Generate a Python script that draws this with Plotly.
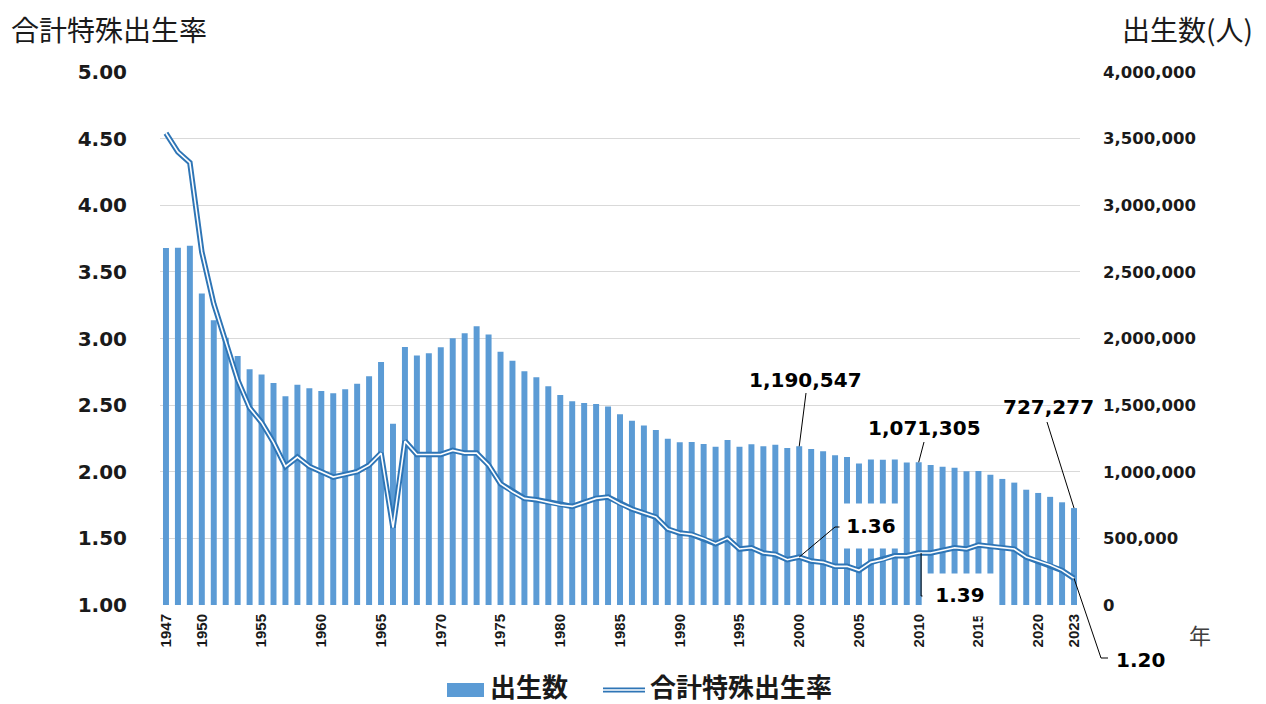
import plotly.graph_objects as go

# ---------------- data ----------------
years = list(range(1947, 2024))
births = [
    2678792, 2681624, 2696638, 2337507, 2137689, 2005162, 1868040, 1769580, 1730692, 1665278,
    1566713, 1653469, 1626088, 1606041, 1589372, 1618616, 1659521, 1716761, 1823697, 1360974,
    1935647, 1871839, 1889815, 1934239, 2000973, 2038682, 2091983, 2029989, 1901440, 1832617,
    1755100, 1708643, 1642580, 1576889, 1529455, 1515392, 1508687, 1489780, 1431577, 1382946,
    1346658, 1314006, 1246802, 1221585, 1223245, 1208989, 1188282, 1238328, 1187064, 1206555,
    1191665, 1203147, 1177669, 1190547, 1170662, 1153855, 1123610, 1110721, 1062530, 1092674,
    1089818, 1091156, 1070036, 1071305, 1050806, 1037231, 1029816, 1003539, 1005721, 977242,
    946146, 918400, 865239, 840835, 811622, 770759, 727277,
]
tfr = [
    4.54, 4.40, 4.32, 3.65, 3.26, 2.98, 2.69, 2.48, 2.37, 2.22,
    2.04, 2.11, 2.04, 2.00, 1.96, 1.98, 2.00, 2.05, 2.14, 1.58,
    2.23, 2.13, 2.13, 2.13, 2.16, 2.14, 2.14, 2.05, 1.91, 1.85,
    1.80, 1.79, 1.77, 1.75, 1.74, 1.77, 1.80, 1.81, 1.76, 1.72,
    1.69, 1.66, 1.57, 1.54, 1.53, 1.50, 1.46, 1.50, 1.42, 1.43,
    1.39, 1.38, 1.34, 1.36, 1.33, 1.32, 1.29, 1.29, 1.26, 1.32,
    1.34, 1.37, 1.37, 1.39, 1.39, 1.41, 1.43, 1.42, 1.45, 1.44,
    1.43, 1.42, 1.36, 1.33, 1.30, 1.26, 1.20,
]
xtick_years = [1947, 1950, 1955, 1960, 1965, 1970, 1975, 1980, 1985, 1990,
               1995, 2000, 2005, 2010, 2015, 2020, 2023]
tfr_ticks = [1.0, 1.5, 2.0, 2.5, 3.0, 3.5, 4.0, 4.5, 5.0]
birth_ticks = [0, 500000, 1000000, 1500000, 2000000, 2500000, 3000000, 3500000, 4000000]
birth_label_years = [2000, 2010, 2023]
tfr_label_years = [2000, 2010, 2023]

# ---------------- styling / layout helpers ----------------
OFF = 8                                   # browser body margin
W, H = 1266 - OFF, 704 - OFF
L, R, T, B = 160, 1080, 72, 605          # plot area in page pixels
XMIN, XMAX = 1946.5, 2023.5
TMIN, TMAX = 1.0, 5.0
BMAX = 4000000

BAR_COLOR = "#5B9BD5"
LINE_COLOR = "#2E75B6"
TXT = "#1a1a1a"
NUM_FONT = "DejaVu Sans"
CJK_FONT = "Noto Sans CJK JP"


def PX(px):
    return (px - L) / (R - L)


def PY(py):
    return (B - py) / (B - T)


def dx(year):
    return (year - XMIN) / (XMAX - XMIN)


def dt(v):
    return (v - TMIN) / (TMAX - TMIN)


def db(v):
    return v / BMAX


fig = go.Figure()
fig.add_trace(go.Bar(x=years, y=births, marker=dict(color=BAR_COLOR, line=dict(width=0)),
                     width=0.5, yaxis="y", name="出生数", showlegend=False))
fig.add_trace(go.Scatter(x=years, y=tfr, yaxis="y2", mode="lines",
                         line=dict(color=LINE_COLOR, width=5.5), name="合計特殊出生率",
                         showlegend=False))
fig.add_trace(go.Scatter(x=years, y=tfr, yaxis="y2", mode="lines",
                         line=dict(color="white", width=1.6), showlegend=False,
                         hoverinfo="skip"))

annotations = []
shapes = []
lab_font = dict(family=NUM_FONT, size=20, color="#000000", weight="bold")


def ann(**kw):
    d = dict(xref="paper", yref="paper", showarrow=False, xanchor="center", yanchor="middle")
    d.update(kw)
    annotations.append(d)


def lead(path):
    shapes.append(dict(type="path", xref="paper", yref="paper", path=path,
                       line=dict(color="#000", width=1)))


b = {y: births[years.index(y)] for y in birth_label_years}
t = {y: tfr[years.index(y)] for y in tfr_label_years}

# births labels
ann(x=PX(805), y=PY(380), text=f"{b[2000]:,}", font=lab_font)
lead(f"M {PX(806)},{PY(393)} L {dx(2000)},{db(b[2000])}")
ann(x=PX(924), y=PY(428), text=f"{b[2010]:,}", font=lab_font)
lead(f"M {PX(924)},{PY(442)} L {dx(2010)},{db(b[2010])}")
ann(x=PX(1048), y=PY(407), text=f"{b[2023]:,}", font=lab_font)
lead(f"M {PX(1047)},{PY(422)} L {dx(2023)},{db(b[2023])}")

# TFR labels
ann(x=PX(871), y=PY(526), text=f"{t[2000]:.2f}", font=lab_font, bgcolor="white", width=60, height=42)
lead(f"M {dx(2000)},{dt(t[2000])} L {PX(835)},{PY(527)} L {PX(842)},{PY(527)}")
ann(x=PX(960), y=PY(595), text=f"{t[2010]:.2f}", font=lab_font, bgcolor="white", width=72, height=40)
lead(f"M {dx(2010.2)},{dt(t[2010])} L {dx(2010.2)},{PY(596)} L {PX(928)},{PY(596)}")
ann(x=PX(1140), y=PY(660), text=f"{t[2023]:.2f}", font=lab_font)
lead(f"M {dx(2023)},{dt(t[2023])} L {PX(1101)},{PY(658)} L {PX(1108)},{PY(658)}")

# axis titles
ann(x=PX(9), y=PY(29), xanchor="left", text="合計特殊出生率",
    font=dict(family=CJK_FONT, size=28, color=TXT))
ann(x=PX(1255), y=PY(29), xanchor="right", text="出生数(人)",
    font=dict(family=CJK_FONT, size=28, color=TXT))
ann(x=PX(1200), y=PY(634), text="年", font=dict(family=CJK_FONT, size=22, color="#404040"))

# manual legend
shapes.append(dict(type="rect", xref="paper", yref="paper", x0=PX(447), x1=PX(484),
                   y0=PY(697), y1=PY(683), fillcolor=BAR_COLOR, line=dict(width=0)))
ann(x=PX(488), y=PY(685), xanchor="left", text="出生数",
    font=dict(family=CJK_FONT, size=26, color=TXT, weight="bold"))
shapes.append(dict(type="line", xref="paper", yref="paper", x0=PX(603), x1=PX(645),
                   y0=PY(690), y1=PY(690), line=dict(color=LINE_COLOR, width=5)))
shapes.append(dict(type="line", xref="paper", yref="paper", x0=PX(603), x1=PX(645),
                   y0=PY(690), y1=PY(690), line=dict(color="white", width=1.5)))
ann(x=PX(648), y=PY(685), xanchor="left", text="合計特殊出生率",
    font=dict(family=CJK_FONT, size=26, color=TXT, weight="bold"))

fig.update_layout(
    width=W, height=H, autosize=False,
    margin=dict(l=L - OFF, r=1266 - R, t=T - OFF, b=704 - B, pad=0),
    paper_bgcolor="white", plot_bgcolor="white",
    showlegend=False,
    xaxis=dict(range=[XMIN, XMAX], tickmode="array", tickvals=xtick_years,
               ticktext=[str(y) for y in xtick_years], tickangle=-90,
               tickfont=dict(family="Liberation Sans", size=15, color=TXT, weight="bold"),
               showgrid=False, zeroline=False, showline=False, ticks="",
               ticklabelstandoff=5),
    yaxis=dict(side="right", range=[0, BMAX], tickmode="array", tickvals=birth_ticks,
               tickformat=",", showgrid=True, gridcolor="#d9d9d9", gridwidth=1,
               zeroline=False, showline=False, ticks="",
               tickfont=dict(family=NUM_FONT, size=16.5, color=TXT, weight="bold"),
               ticklabelstandoff=22),
    yaxis2=dict(side="left", overlaying="y", range=[TMIN, TMAX], tickmode="array",
                tickvals=tfr_ticks, tickformat=".2f", showgrid=False, zeroline=False,
                showline=False, ticks="",
                tickfont=dict(family=NUM_FONT, size=20, color=TXT, weight="bold"),
                ticklabelstandoff=32),
    annotations=annotations,
    shapes=shapes,
)

fig.write_html("out.html")
